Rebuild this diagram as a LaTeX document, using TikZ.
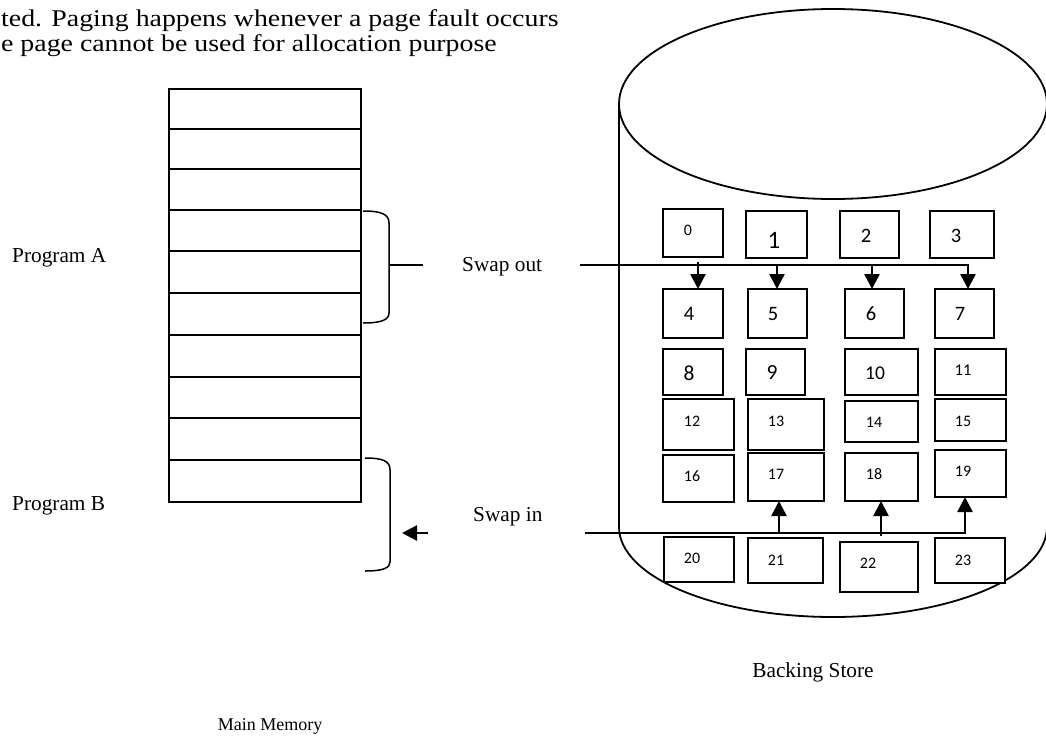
\documentclass[tikz,border=0pt]{standalone}
\usepackage{fontspec}
\setmainfont{Liberation Serif}
\newfontfamily\numfont{Carlito}
\newfontfamily\paperfont[FakeStretch=1.16]{Liberation Serif}
\usetikzlibrary{arrows.meta}

\begin{document}
\begin{tikzpicture}[x=1pt,y=-1pt,
  cell/.style={draw, line width=2.4pt, minimum width=192pt, inner sep=0pt, outer sep=0pt},
  pagebox/.style={draw, line width=2pt, fill=white, inner sep=0pt, outer sep=0pt},
  num/.style={inner sep=0pt},
  txt/.style={inner sep=0pt, font=\fontsize{21.3}{24}\selectfont},
  para/.style={inner sep=0pt, anchor=base west, font=\paperfont\fontsize{24}{28}\selectfont},
  brace/.style={line width=1.5pt},
  drum/.style={line width=1.8pt},
  arr/.style={line width=2.5pt, -{Triangle[length=15pt,width=15pt]}},
]
\useasboundingbox (0,0) rectangle (1046,736);
\clip (0,0) rectangle (1046,736);

% running text above the figure
\node[para] (para1) at (1,26) {ted. Paging happens whenever a page fault occurs};
\node[para] (para2) at (1,51) {e page cannot be used for allocation purpose};

% main memory: a stack of ten frames
\foreach \t/\b [count=\i] in {89/129,129/169,169/210,210/251,251/293,293/335,335/377,377/418,418/460,460/502}
  \node[cell, minimum height={(\b-\t)*1pt}] (m\i) at (265,{(\t+\b)/2}) {};

% braces marking the two programs
\draw[brace] (363,211) .. controls (381,211) and (389,214) .. (389,223)
  -- (389,313) .. controls (389,320) and (381,323) .. (363,323);
\draw[brace] (389,265) -- (423,265);
\draw[brace] (365,458) .. controls (383,458) and (390,461) .. (390,470)
  -- (390,562) .. controls (390,568) and (383,571) .. (365,571);

\node[txt, anchor=base west] (progA) at (12,262) {Program A};
\node[txt, anchor=base west] (progB) at (12,510) {Program B};
\node[txt, anchor=base west] (swapout) at (462,271) {Swap out};
\node[txt, anchor=base west] (swapin) at (473,521) {Swap in};
\node[txt, anchor=base] (store) at (813,677) {Backing Store};
\node[inner sep=0pt, anchor=base, font=\fontsize{18}{20}\selectfont] (mainmem) at (270,730) {Main Memory};

% backing store drum
\draw[drum] (833,104) ellipse [x radius=214, y radius=95];
\draw[drum] (619,104) -- (619,527) arc[start angle=180, end angle=0, x radius=214, y radius=90] -- (1047,104);

% pages on the backing store
\foreach \n/\cx/\cy/\w/\h in {
  0/693/233/60/48, 1/776.5/234.5/61/47, 2/869.5/234.5/59/47, 3/962/234.5/64/47,
  4/693/313.5/60/49, 5/777.5/313.5/59/49, 6/874.5/313.5/59/49, 7/964.5/313.5/59/49,
  8/693/372/60/46, 9/775.5/372/59/46, 10/881.5/372/73/46, 11/970.5/372/71/46,
  12/698.5/424.5/71/51, 13/786/424.5/76/51, 14/881.5/421.5/73/41, 15/970.5/420/71/42,
  16/698.5/478.5/71/47, 17/786/477/76/48, 18/881.5/477/73/48, 19/970.5/473.5/71/47,
  20/699/559.5/70/45, 21/785.5/560.5/75/45, 22/879/567/78/50, 23/970/560.5/70/45}
  \node[pagebox, minimum width=\w pt, minimum height=\h pt] (b\n) at (\cx,\cy) {};

\foreach \n/\x/\y/\s in {
  0/688/230/16, 1/774/240/25, 2/866/236/20.5, 3/956/236/20.5,
  4/689/314/20.5, 5/773/314/20.5, 6/871/314/20.5, 7/960/314/20.5,
  8/689/373/21.5, 9/772/373/21.5, 10/875/373/19.5, 11/963/370/16.5,
  12/692/421/16, 13/776/421/16, 14/874/422/16, 15/963/421/16,
  16/692/476/16, 17/776/474/16, 18/874/474/16, 19/963/471/16,
  20/692/558/16, 21/776/560/16, 22/868/563/16, 23/963/560/16}
  \node[num, font=\numfont\fontsize{\s}{\s}\selectfont] (t\n) at (\x,\y) {\n};

% swap out: bus into the second row
\coordinate (soL) at (580,265);
\coordinate (soR) at (968,265);
\coordinate (so4) at (698,262);
\coordinate (so5) at (777,265);
\coordinate (so6) at (872,265);
\draw[arr] (soL) -- (soR) -- (soR |- b7.north);
\draw[arr] (so4) -- (so4 |- b4.north);
\draw[arr] (so5) -- (so5 |- b5.north);
\draw[arr] (so6) -- (so6 |- b6.north);

% swap in: bus up into the fifth row
\coordinate (siL) at (585,533);
\coordinate (siR) at (965,533);
\coordinate (si17) at (779,533);
\coordinate (si18) at (881,536);
\draw[arr] (siL) -- (siR) -- (siR |- b19.south);
\draw[arr] (si17) -- (si17 |- b17.south);
\draw[arr] (si18) -- (si18 |- b18.south);

% swap in arrow towards program B
\coordinate (inT) at (428,533);
\coordinate (inH) at (402,533);
\draw[arr] (inT) -- (inH);
\end{tikzpicture}
\end{document}
